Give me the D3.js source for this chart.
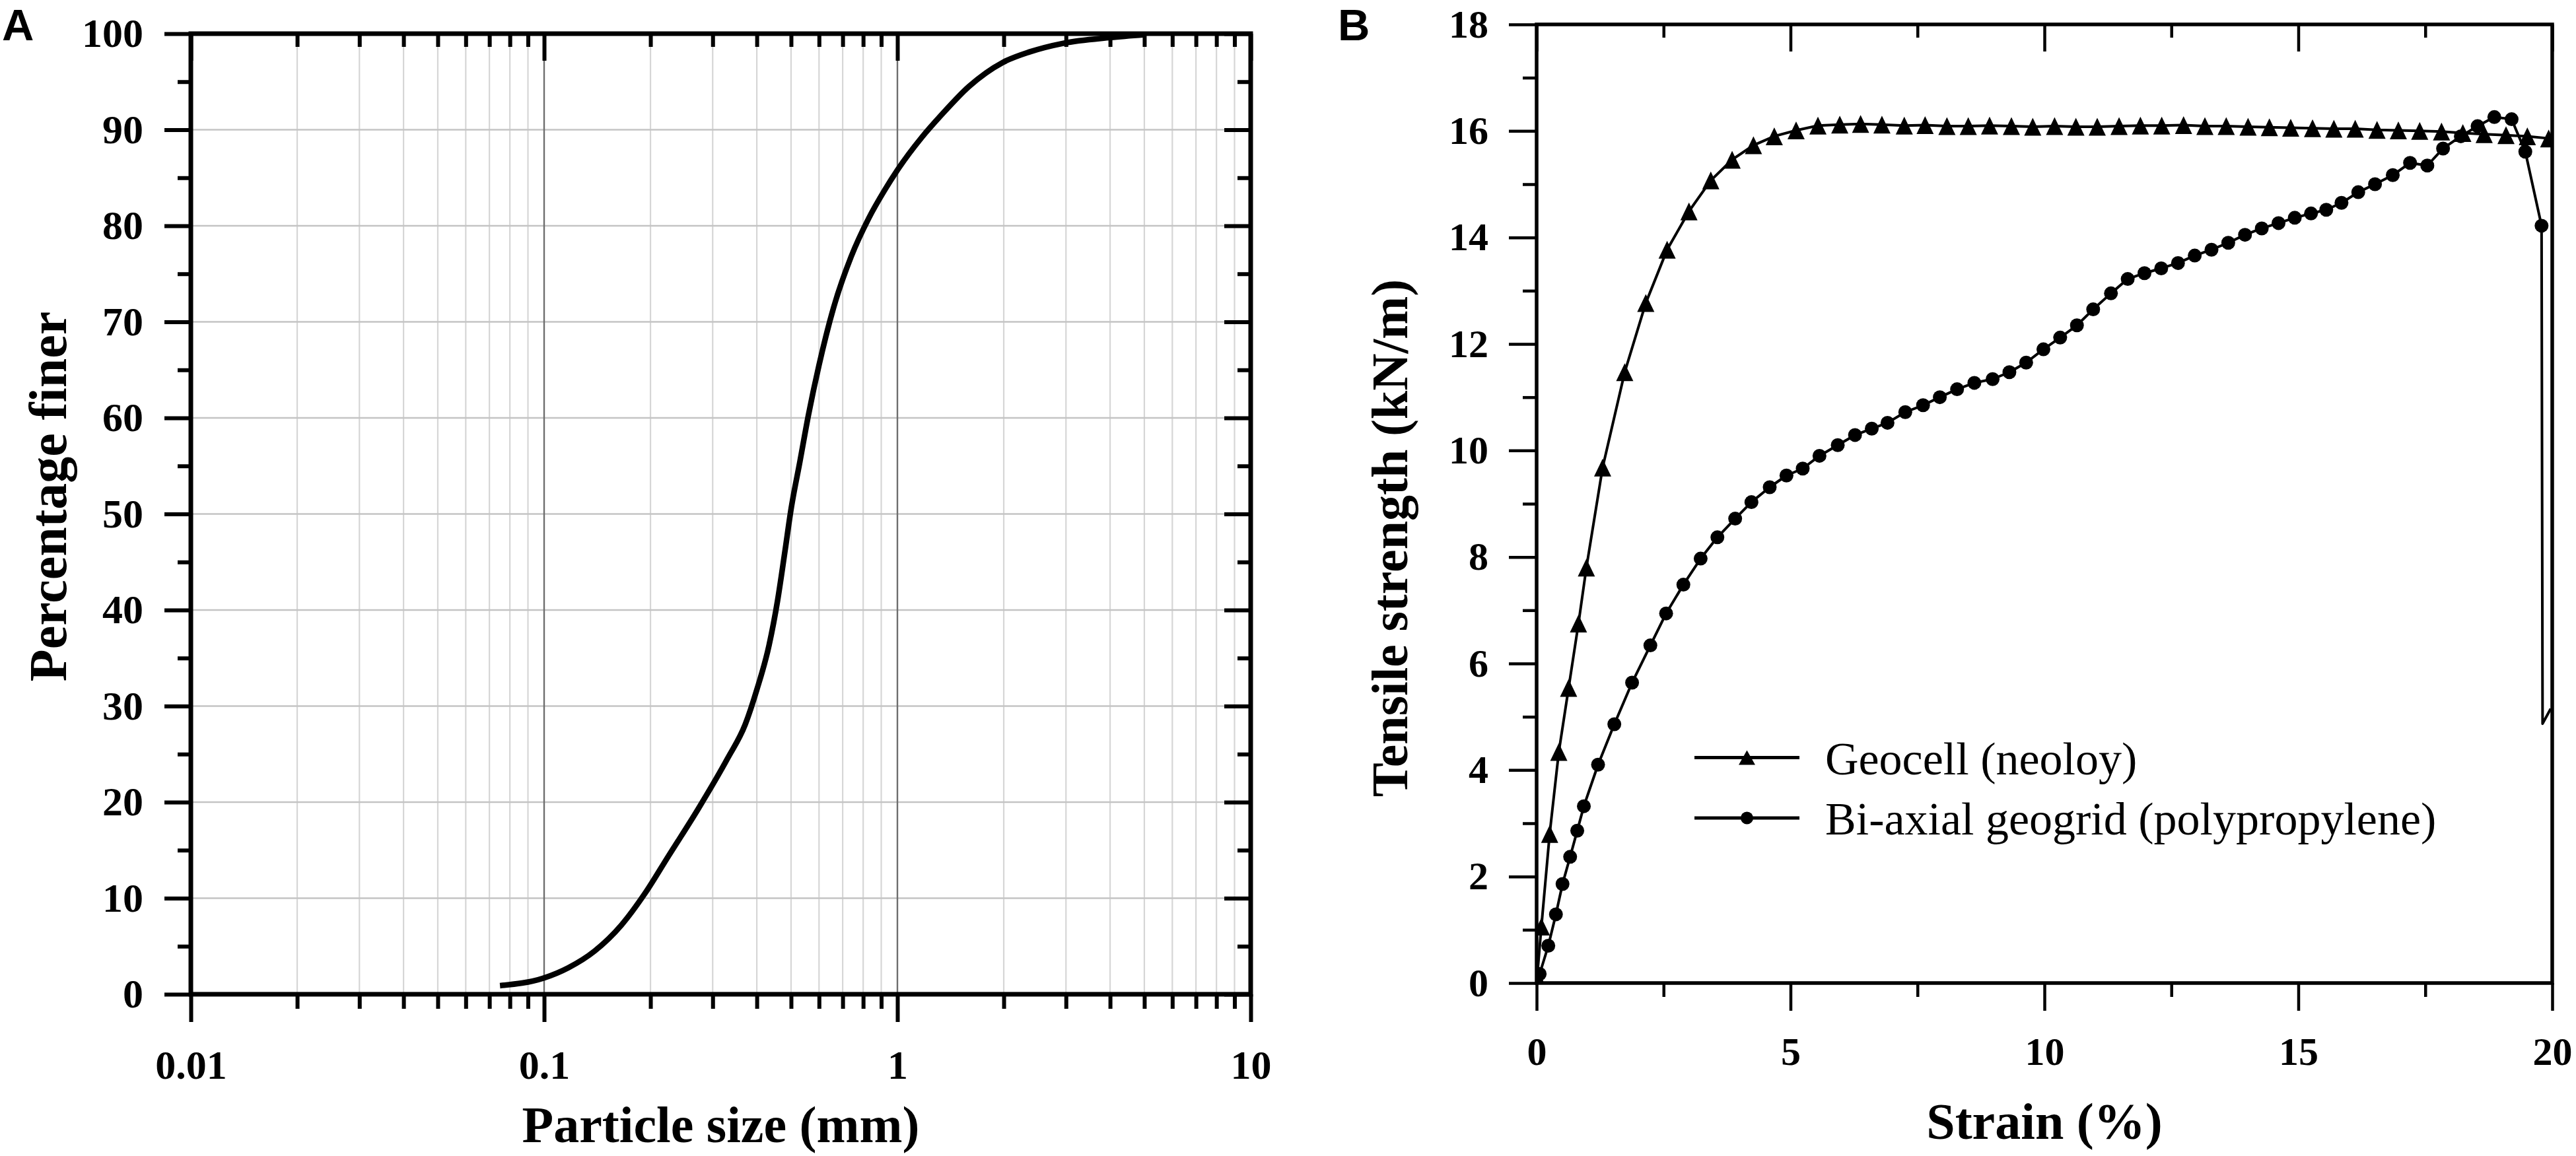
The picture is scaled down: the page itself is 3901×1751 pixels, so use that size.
<!DOCTYPE html>
<html>
<head>
<meta charset="utf-8">
<script src="https://cdn.jsdelivr.net/npm/d3@7"></script>
<style>
  body{margin:0;background:#fff;}
  text{font-family:"Liberation Serif","Times New Roman",serif;fill:#000;}
  .tick text{font-weight:bold;}
</style>
</head>
<body>
<script>
// ---- panel A : grain size distribution ----
var sizeMm   =[0.075,0.1,0.117,0.139,0.1655,0.193,0.225,0.273,0.33,0.371,0.40,0.433,0.458,0.48,0.50,0.53,0.56,0.60,0.66,0.74,0.83,0.92,1.0,1.172,1.337,1.594,1.986,2.366,2.948,4.01,5.0];
var finerPct =[0.9,1.7,2.75,4.5,7.2,10.5,14.4,19.3,24.5,28.1,31.7,36.3,41.0,46.0,50.5,55.5,60.3,65.5,71.5,76.8,80.8,83.7,85.8,89.2,91.6,94.5,97.0,98.1,99.0,99.6,99.9];
var sizeTicks=[0.01,0.1,1,10];
var sizeTickLabels=["0.01","0.1","1","10"];
var pctTicks=[0,10,20,30,40,50,60,70,80,90,100];
var pctMinor=[5,15,25,35,45,55,65,75,85,95];

// ---- panel B : tensile tests ----
var geocellStrain=[0,0.094,0.257,0.437,0.63,0.824,0.98,1.30,1.735,2.15,2.57,3.00,3.43,3.85,4.27,4.68,5.11,5.54,5.97,6.38,6.80,7.24,7.65,8.08,8.50,8.92,9.35,9.77,10.20,10.62,11.04,11.47,11.89,12.31,12.74,13.16,13.58,14.01,14.43,14.85,15.28,15.70,16.12,16.55,16.97,17.39,17.82,18.24,18.66,19.09,19.51,19.93];
var geocellLoad  =[0,1.06,2.80,4.34,5.54,6.75,7.80,9.68,11.47,12.77,13.77,14.49,15.07,15.46,15.73,15.90,16.01,16.10,16.12,16.13,16.12,16.10,16.11,16.09,16.09,16.10,16.09,16.08,16.09,16.08,16.08,16.09,16.10,16.10,16.11,16.09,16.09,16.08,16.07,16.06,16.05,16.04,16.04,16.02,16.01,16.00,15.99,15.96,15.94,15.92,15.90,15.86];
var geogridStrain=[0,0.06,0.23,0.38,0.51,0.66,0.80,0.93,1.21,1.53,1.88,2.24,2.55,2.89,3.23,3.56,3.91,4.23,4.59,4.92,5.24,5.57,5.93,6.27,6.60,6.91,7.26,7.61,7.94,8.28,8.62,8.98,9.31,9.64,9.98,10.31,10.64,10.96,11.31,11.64,11.97,12.30,12.63,12.96,13.29,13.62,13.95,14.28,14.61,14.93,15.25,15.55,15.85,16.18,16.51,16.86,17.20,17.54,17.85,18.20,18.53,18.86,19.20,19.47,19.79];
var geogridLoad  =[0,0.17,0.70,1.29,1.86,2.37,2.86,3.32,4.10,4.86,5.64,6.34,6.94,7.48,7.97,8.37,8.72,9.03,9.31,9.53,9.66,9.90,10.10,10.29,10.41,10.52,10.72,10.85,11.00,11.15,11.27,11.34,11.47,11.65,11.90,12.12,12.35,12.65,12.95,13.22,13.33,13.42,13.52,13.66,13.77,13.90,14.05,14.17,14.27,14.37,14.45,14.52,14.65,14.85,15.00,15.17,15.40,15.35,15.67,15.90,16.09,16.26,16.22,15.61,14.22];
var geogridTailStrain=[19.81,19.97];
var geogridTailLoad  =[4.87,5.15];
var strainTicks=[0,5,10,15,20];
var strainMinor=[2.5,7.5,12.5,17.5];
var loadTicks=[0,2,4,6,8,10,12,14,16,18];
var loadMinor=[1,3,5,7,9,11,13,15,17];
var legendNames=["Geocell (neoloy)","Bi-axial geogrid (polypropylene)"];

var W=3901,H=1751;
var svg=d3.select('body').append('svg').attr('width',W).attr('height',H);

function styleAxis(g,sw){
    g.select('.domain').remove();
    g.selectAll('.tick line').attr('stroke','#000').attr('stroke-width',sw);
}

// ================= panel A =================
var pa={l:289,r:1894,t:51,b:1506};
var xA=d3.scaleLog().domain([0.01,10]).range([pa.l,pa.r]);
var yA=d3.scaleLinear().domain([0,100]).range([pa.b,pa.t]);
var allLog=xA.ticks();
var minorA=allLog.filter(function(d){return sizeTicks.indexOf(d)<0;});

var gA=svg.append('g');
// grid
gA.append('g').selectAll('line').data(minorA).enter().append('line')
    .attr('x1',function(d){return xA(d);}).attr('x2',function(d){return xA(d);})
    .attr('y1',pa.t).attr('y2',pa.b).attr('stroke','#d6d6d6').attr('stroke-width',2.2);
gA.append('g').selectAll('line').data(pctTicks.slice(1,-1)).enter().append('line')
    .attr('x1',pa.l).attr('x2',pa.r)
    .attr('y1',function(d){return yA(d);}).attr('y2',function(d){return yA(d);})
    .attr('stroke','#c4c4c4').attr('stroke-width',2.6);
gA.append('g').selectAll('line').data(sizeTicks.slice(1,-1)).enter().append('line')
    .attr('x1',function(d){return xA(d);}).attr('x2',function(d){return xA(d);})
    .attr('y1',pa.t).attr('y2',pa.b).attr('stroke','#6e6e6e').attr('stroke-width',2.4);

// curve
var lineA=d3.line().x(function(d){return xA(d[0]);}).y(function(d){return yA(d[1]);}).curve(d3.curveMonotoneX);
gA.append('path').datum(d3.zip(sizeMm,finerPct)).attr('d',lineA)
    .attr('fill','none').attr('stroke','#000').attr('stroke-width',8.5);

// axes
var bA=gA.append('g').attr('transform','translate(0,'+pa.b+')')
    .call(d3.axisBottom(xA).tickValues(sizeTicks).tickSize(42).tickPadding(42)
        .tickFormat(function(d,i){return sizeTickLabels[i];}));
styleAxis(bA,6);
bA.selectAll('text').attr('font-size',62);
styleAxis(gA.append('g').attr('transform','translate(0,'+pa.b+')')
    .call(d3.axisBottom(xA).tickValues(minorA).tickSize(22).tickFormat('')),6);
styleAxis(gA.append('g').attr('transform','translate(0,'+pa.t+')')
    .call(d3.axisBottom(xA).tickValues(sizeTicks).tickSize(41).tickFormat('')),6);
styleAxis(gA.append('g').attr('transform','translate(0,'+pa.t+')')
    .call(d3.axisBottom(xA).tickValues(minorA).tickSize(20).tickFormat('')),6);

var lA=gA.append('g').attr('transform','translate('+pa.l+',0)')
    .call(d3.axisLeft(yA).tickValues(pctTicks).tickSize(40).tickPadding(32));
styleAxis(lA,6);
lA.selectAll('text').attr('font-size',62);
styleAxis(gA.append('g').attr('transform','translate('+pa.l+',0)')
    .call(d3.axisLeft(yA).tickValues(pctMinor).tickSize(20).tickFormat('')),6);
styleAxis(gA.append('g').attr('transform','translate('+pa.r+',0)')
    .call(d3.axisLeft(yA).tickValues(pctTicks).tickSize(40).tickFormat('')),6);
styleAxis(gA.append('g').attr('transform','translate('+pa.r+',0)')
    .call(d3.axisLeft(yA).tickValues(pctMinor).tickSize(20).tickFormat('')),6);

gA.append('rect').attr('x',pa.l).attr('y',pa.t).attr('width',pa.r-pa.l).attr('height',pa.b-pa.t)
    .attr('fill','none').attr('stroke','#000').attr('stroke-width',7);

gA.append('text').attr('x',(pa.l+pa.r)/2).attr('y',1730).attr('text-anchor','middle')
    .attr('font-size',78).attr('font-weight','bold').text('Particle size (mm)');
gA.append('text').attr('transform','translate(100,752) rotate(-90)').attr('text-anchor','middle')
    .attr('font-size',80).attr('font-weight','bold').text('Percentage finer');
svg.append('text').attr('x',3).attr('y',61).attr('font-size',67).attr('font-weight','bold')
    .style('font-family','"Liberation Sans",Arial,sans-serif').text('A');

// ================= panel B =================
var pb={l:2327,r:3865,t:37,b:1489};
var xB=d3.scaleLinear().domain([0,20]).range([pb.l,pb.r]);
var yB=d3.scaleLinear().domain([0,18]).range([pb.b,pb.t]);
var gB=svg.append('g');

gB.append('clipPath').attr('id','clipB').append('rect')
    .attr('x',pb.l).attr('y',pb.t).attr('width',pb.r-pb.l).attr('height',pb.b-pb.t);

var bB=gB.append('g').attr('transform','translate(0,'+pb.b+')')
    .call(d3.axisBottom(xB).tickValues(strainTicks).tickSize(42).tickPadding(39));
styleAxis(bB,4.5);
bB.selectAll('text').attr('font-size',60);
styleAxis(gB.append('g').attr('transform','translate(0,'+pb.b+')')
    .call(d3.axisBottom(xB).tickValues(strainMinor).tickSize(21).tickFormat('')),4.5);
styleAxis(gB.append('g').attr('transform','translate(0,'+pb.t+')')
    .call(d3.axisBottom(xB).tickValues(strainTicks).tickSize(41).tickFormat('')),4.5);
styleAxis(gB.append('g').attr('transform','translate(0,'+pb.t+')')
    .call(d3.axisBottom(xB).tickValues(strainMinor).tickSize(20).tickFormat('')),4.5);
var lB=gB.append('g').attr('transform','translate('+pb.l+',0)')
    .call(d3.axisLeft(yB).tickValues(loadTicks).tickSize(42).tickPadding(31));
styleAxis(lB,4.5);
lB.selectAll('text').attr('font-size',60);
styleAxis(gB.append('g').attr('transform','translate('+pb.l+',0)')
    .call(d3.axisLeft(yB).tickValues(loadMinor).tickSize(21).tickFormat('')),4.5);

var lineB=d3.line().x(function(d){return xB(d[0]);}).y(function(d){return yB(d[1]);});
var plotB=gB.append('g').attr('clip-path','url(#clipB)');
var tri='M0,-13.5L13,13.5L-13,13.5Z';

var geocellPts=d3.zip(geocellStrain,geocellLoad);
var geogridPts=d3.zip(geogridStrain,geogridLoad);
plotB.append('path').datum(geocellPts).attr('d',lineB)
    .attr('fill','none').attr('stroke','#000').attr('stroke-width',4);
plotB.append('path').datum(geogridPts.concat(d3.zip(geogridTailStrain,geogridTailLoad))).attr('d',lineB)
    .attr('fill','none').attr('stroke','#000').attr('stroke-width',4).attr('stroke-linejoin','round');
plotB.append('g').selectAll('path').data(geocellPts).enter().append('path')
    .attr('d',tri).attr('fill','#000')
    .attr('transform',function(d){return 'translate('+xB(d[0])+','+yB(d[1])+')';});
plotB.append('g').selectAll('circle').data(geogridPts).enter().append('circle')
    .attr('cx',function(d){return xB(d[0]);}).attr('cy',function(d){return yB(d[1]);})
    .attr('r',10.5).attr('fill','#000');

gB.append('rect').attr('x',pb.l).attr('y',pb.t).attr('width',pb.r-pb.l).attr('height',pb.b-pb.t)
    .attr('fill','none').attr('stroke','#000').attr('stroke-width',5.5);

// legend
var legY=[1147.6,1239];
var leg=gB.append('g');
leg.selectAll('line').data(legendNames).enter().append('line')
    .attr('x1',2566).attr('x2',2725)
    .attr('y1',function(d,i){return legY[i];}).attr('y2',function(d,i){return legY[i];})
    .attr('stroke','#000').attr('stroke-width',5);
leg.append('path').attr('d','M0,-11L12.5,11L-12.5,11Z').attr('fill','#000')
    .attr('transform','translate(2645.5,'+legY[0]+')');
leg.append('circle').attr('cx',2645.5).attr('cy',legY[1]).attr('r',9.5).attr('fill','#000');
leg.selectAll('text').data(legendNames).enter().append('text')
    .attr('x',2764).attr('y',function(d,i){return legY[i]+25;})
    .attr('font-size',70).text(function(d){return d;});

gB.append('text').attr('x',(pb.l+pb.r)/2).attr('y',1725).attr('text-anchor','middle')
    .attr('font-size',78).attr('font-weight','bold').text('Strain (%)');
gB.append('text').attr('transform','translate(2131,815) rotate(-90)').attr('text-anchor','middle')
    .attr('font-size',78).attr('font-weight','bold').text('Tensile strength (kN/m)');
svg.append('text').attr('x',2026).attr('y',61).attr('font-size',67).attr('font-weight','bold')
    .style('font-family','"Liberation Sans",Arial,sans-serif').text('B');
</script>
</body>
</html>
